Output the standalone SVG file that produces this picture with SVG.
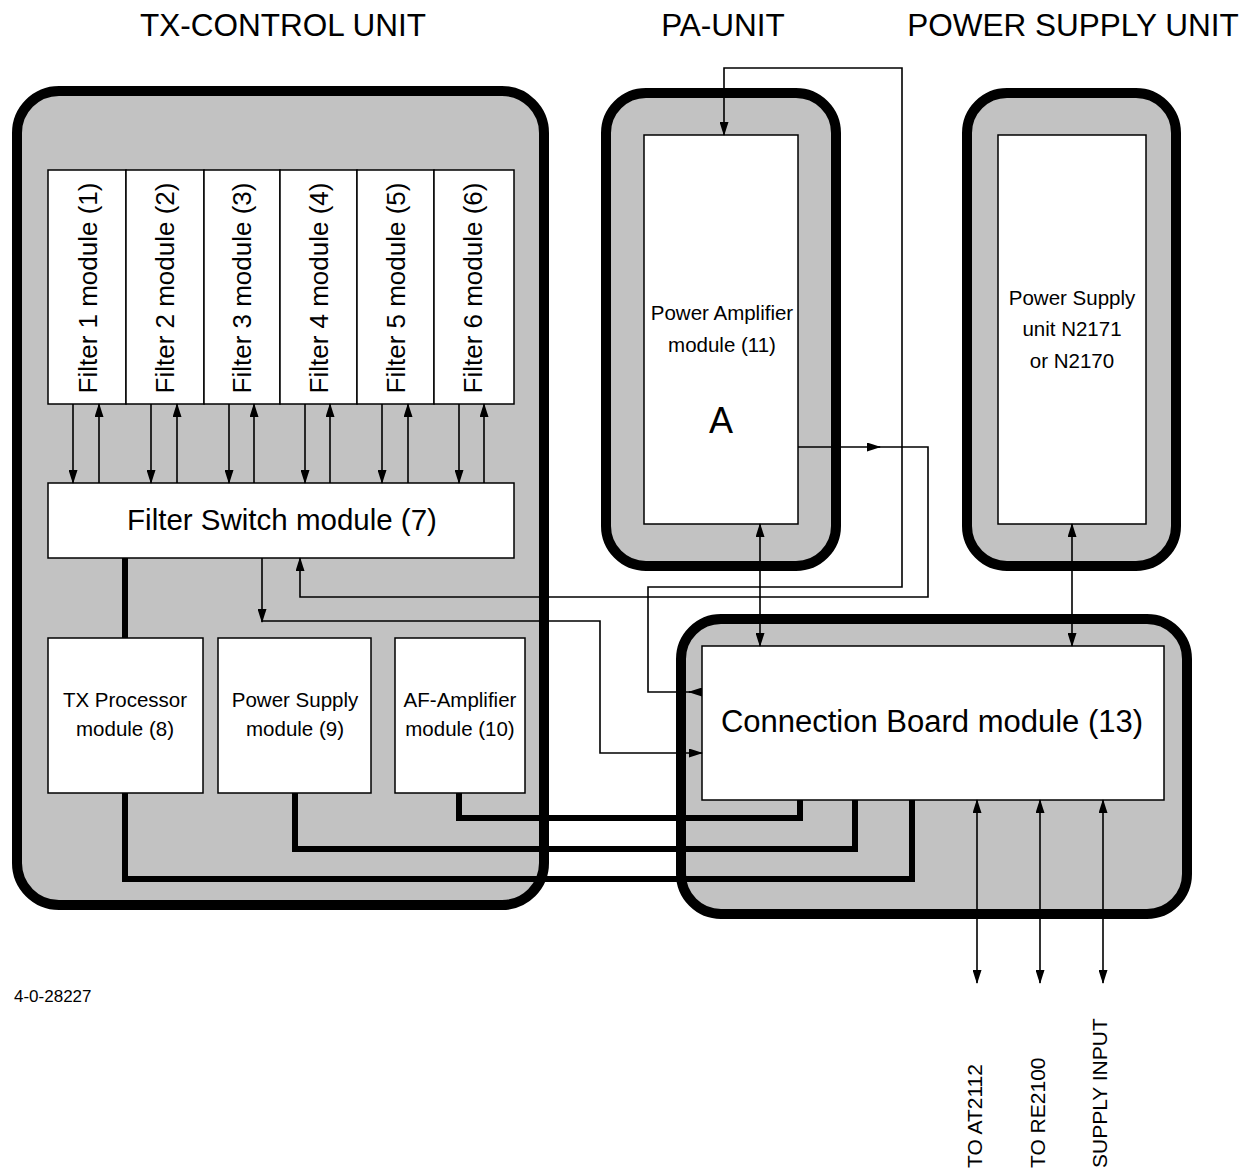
<svg xmlns="http://www.w3.org/2000/svg" width="1245" height="1170" viewBox="0 0 1245 1170">
<defs>
<marker id="ah" markerUnits="userSpaceOnUse" markerWidth="14" markerHeight="9" refX="13" refY="4.5" orient="auto-start-reverse" viewBox="0 0 14 9">
<path d="M0,0 L14,4.5 L0,9 z" fill="#000"/>
</marker>
</defs>
<style>
.unit{fill:#c2c2c2;stroke:#000;stroke-width:10}
.box{fill:#fff;stroke:#000;stroke-width:1.5}
.t{font-family:"Liberation Sans",Arial,sans-serif;fill:#000}
.title{font-size:31.5px;text-anchor:middle}
.mod{font-size:20.5px;text-anchor:middle}
.fl{font-size:26px;text-anchor:middle}
.w{fill:none;stroke:#000;stroke-width:1.6}
.c{fill:none;stroke:#000;stroke-width:6;stroke-linejoin:miter}
</style>
<rect width="1245" height="1170" fill="#fff"/>

<g id="titles">
<text class="t title" x="283" y="36">TX-CONTROL UNIT</text>
<text class="t title" x="723" y="36">PA-UNIT</text>
<text class="t title" x="1073" y="36">POWER SUPPLY UNIT</text>
<text class="t" x="14" y="1002" font-size="17">4-0-28227</text>
</g>

<g id="tx-control-unit">
<rect class="unit" x="17" y="91" width="527" height="814" rx="42"/>
</g>
<g id="pa-unit">
<rect class="unit" x="606" y="93" width="230" height="473" rx="40"/>
</g>
<g id="power-supply-unit">
<rect class="unit" x="967" y="93" width="209" height="473" rx="40"/>
</g>
<g id="connection-unit">
<rect class="unit" x="681" y="619" width="506" height="295" rx="40"/>
</g>

<g id="filter1"><rect class="box" x="48" y="170" width="78" height="234"/><text class="t fl" transform="translate(97,288) rotate(-90)">Filter 1 module (1)</text></g>
<g id="filter2"><rect class="box" x="126" y="170" width="78" height="234"/><text class="t fl" transform="translate(174,288) rotate(-90)">Filter 2 module (2)</text></g>
<g id="filter3"><rect class="box" x="204" y="170" width="76" height="234"/><text class="t fl" transform="translate(251,288) rotate(-90)">Filter 3 module (3)</text></g>
<g id="filter4"><rect class="box" x="280" y="170" width="77" height="234"/><text class="t fl" transform="translate(328,288) rotate(-90)">Filter 4 module (4)</text></g>
<g id="filter5"><rect class="box" x="357" y="170" width="77" height="234"/><text class="t fl" transform="translate(405,288) rotate(-90)">Filter 5 module (5)</text></g>
<g id="filter6"><rect class="box" x="434" y="170" width="80" height="234"/><text class="t fl" transform="translate(482,288) rotate(-90)">Filter 6 module (6)</text></g>

<g id="filter-switch"><rect class="box" x="48" y="483" width="466" height="75"/><text class="t" x="282" y="530" font-size="29.5" text-anchor="middle">Filter Switch module (7)</text></g>

<g id="tx-processor"><rect class="box" x="48" y="638" width="155" height="155"/><text class="t mod" x="125" y="707">TX Processor</text><text class="t mod" x="125" y="736">module (8)</text></g>
<g id="power-supply-module"><rect class="box" x="218" y="638" width="153" height="155"/><text class="t mod" x="295" y="707">Power Supply</text><text class="t mod" x="295" y="736">module (9)</text></g>
<g id="af-amplifier"><rect class="box" x="395" y="638" width="130" height="155"/><text class="t mod" x="460" y="707">AF-Amplifier</text><text class="t mod" x="460" y="736">module (10)</text></g>

<g id="power-amplifier"><rect class="box" x="644" y="135" width="154" height="389"/><text class="t mod" x="722" y="320">Power Amplifier</text><text class="t mod" x="722" y="352">module (11)</text><text class="t" x="721" y="433" font-size="36" text-anchor="middle">A</text></g>

<g id="psu-module"><rect class="box" x="998" y="135" width="148" height="389"/><text class="t mod" x="1072" y="305">Power Supply</text><text class="t mod" x="1072" y="336">unit N2171</text><text class="t mod" x="1072" y="368">or N2170</text></g>

<g id="connection-board"><rect class="box" x="702" y="646" width="462" height="154"/><text class="t" x="932" y="732" font-size="31" text-anchor="middle">Connection Board module (13)</text></g>

<g id="connectors">
<path class="w" d="M73,404 V483" marker-end="url(#ah)"/>
<path class="w" d="M99,483 V404" marker-end="url(#ah)"/>
<path class="w" d="M151,404 V483" marker-end="url(#ah)"/>
<path class="w" d="M177,483 V404" marker-end="url(#ah)"/>
<path class="w" d="M229,404 V483" marker-end="url(#ah)"/>
<path class="w" d="M254,483 V404" marker-end="url(#ah)"/>
<path class="w" d="M305,404 V483" marker-end="url(#ah)"/>
<path class="w" d="M330,483 V404" marker-end="url(#ah)"/>
<path class="w" d="M382,404 V483" marker-end="url(#ah)"/>
<path class="w" d="M408,483 V404" marker-end="url(#ah)"/>
<path class="w" d="M459,404 V483" marker-end="url(#ah)"/>
<path class="w" d="M484,483 V404" marker-end="url(#ah)"/>
<path class="w" d="M702,692 H689" marker-end="url(#ah)"/>
<path class="w" d="M690,692 H648 V587 H902 V68 H724 V135" marker-end="url(#ah)"/>
<path class="w" d="M798,447 H880" marker-end="url(#ah)"/>
<path class="w" d="M878,447 H928 V597 H300 V558" marker-end="url(#ah)"/>
<path class="w" d="M262,558 V622" marker-end="url(#ah)"/>
<path class="w" d="M262,621 H600 V753 H702" marker-end="url(#ah)"/>
<path class="w" d="M760,524 V646" marker-start="url(#ah)" marker-end="url(#ah)"/>
<path class="w" d="M1072,524 V646" marker-start="url(#ah)" marker-end="url(#ah)"/>
<path class="w" d="M977,800 V983" marker-start="url(#ah)" marker-end="url(#ah)"/>
<path class="w" d="M1040,800 V983" marker-start="url(#ah)" marker-end="url(#ah)"/>
<path class="w" d="M1103,800 V983" marker-start="url(#ah)" marker-end="url(#ah)"/>
<path class="c" d="M125,558 V638"/>
<path class="c" d="M125,793 V879 H912 V800"/>
<path class="c" d="M295,793 V849 H855 V800"/>
<path class="c" d="M459,793 V818 H800 V800"/>
</g>

<g id="io-labels">
<text class="t" font-size="21" transform="translate(982,1168) rotate(-90)">TO AT2112</text>
<text class="t" font-size="21" transform="translate(1045,1168) rotate(-90)">TO RE2100</text>
<text class="t" font-size="21" transform="translate(1107,1168) rotate(-90)">SUPPLY INPUT</text>
</g>
</svg>
